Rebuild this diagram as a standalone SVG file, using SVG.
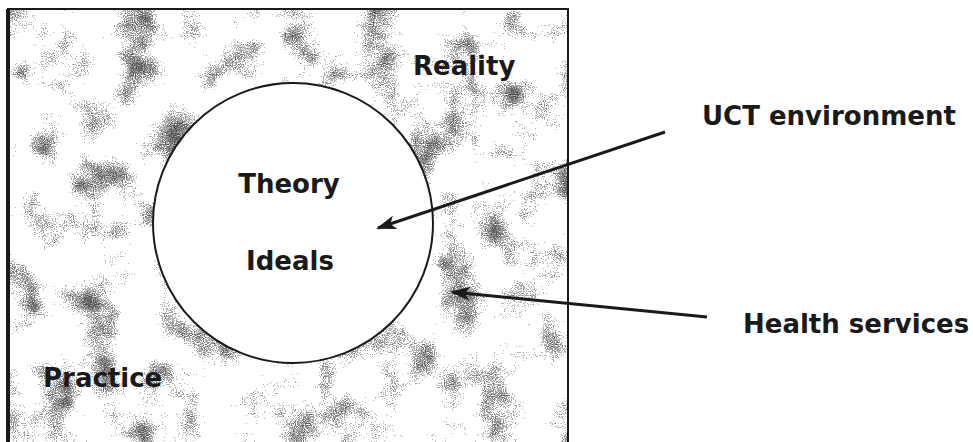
<svg xmlns="http://www.w3.org/2000/svg" width="973" height="442" viewBox="0 0 973 442">
  <style>
    .lbl { font-family: "DejaVu Sans", Verdana, sans-serif; font-weight: bold; font-size: 26px; fill: #1a1a1a; }
    .edge { stroke: #1a1a1a; stroke-width: 3; fill: none; marker-end: url(#head); }
  </style>
  <defs>
    <marker id="head" viewBox="0 0 20 14" refX="18" refY="7" markerWidth="20" markerHeight="14" markerUnits="userSpaceOnUse" orient="auto">
      <path d="M20,7 L0,0 L5,7 L0,14 Z" fill="#1a1a1a"/>
    </marker>
    <filter id="speckle" x="0" y="0" width="100%" height="100%" filterUnits="objectBoundingBox">
      <feTurbulence type="fractalNoise" baseFrequency="0.025" numOctaves="3" seed="4" result="low"/>
      <feTurbulence type="fractalNoise" baseFrequency="0.9" numOctaves="1" seed="11" result="high"/>
      <feColorMatrix in="low" type="matrix" values="0 0 0 0 0  0 0 0 0 0  0 0 0 0 0  1 0 0 0 0" result="lowA"/>
      <feColorMatrix in="high" type="matrix" values="0 0 0 0 0  0 0 0 0 0  0 0 0 0 0  1 0 0 0 0" result="highA"/>
      <feComposite in="highA" in2="lowA" operator="arithmetic" k1="0" k2="0.7" k3="1" k4="-0.43" result="sum"/>
      <feComponentTransfer in="sum">
        <feFuncA type="discrete" tableValues="0 0 0 0 0 0 0 0 0 0 0 0.3 0.3 0.45 0.55 0.6 0.65 0.7 0.7 0.7"/>
      </feComponentTransfer>
    </filter>
  </defs>

  <rect width="973" height="442" fill="#ffffff"/>

  <g id="reality">
    <rect x="8" y="9" width="560" height="445" fill="#ffffff"/>
    <rect x="8" y="9" width="560" height="445" fill="#000" filter="url(#speckle)"/>
    <rect x="8" y="9" width="560" height="445" fill="none" stroke="#1a1a1a" stroke-width="2"/>
    <line x1="8" y1="9" x2="8" y2="442" stroke="#1a1a1a" stroke-width="4"/>
    <text class="lbl" x="413" y="75">Reality</text>
  </g>

  <g id="practice">
    <text class="lbl" x="43" y="387">Practice</text>
  </g>

  <g id="theory-circle">
    <circle cx="293" cy="223" r="140" fill="#ffffff" stroke="#1a1a1a" stroke-width="2"/>
    <text class="lbl" x="289" y="193" text-anchor="middle">Theory</text>
    <text class="lbl" x="290" y="270" text-anchor="middle">Ideals</text>
  </g>

  <g id="uct">
    <text class="lbl" x="702" y="125">UCT environment</text>
  </g>

  <g id="health">
    <text class="lbl" x="743" y="333">Health services</text>
  </g>

  <g id="connectors">
    <line class="edge" x1="665" y1="132" x2="378" y2="228"/>
    <line class="edge" x1="707" y1="317" x2="452" y2="292"/>
  </g>
</svg>
